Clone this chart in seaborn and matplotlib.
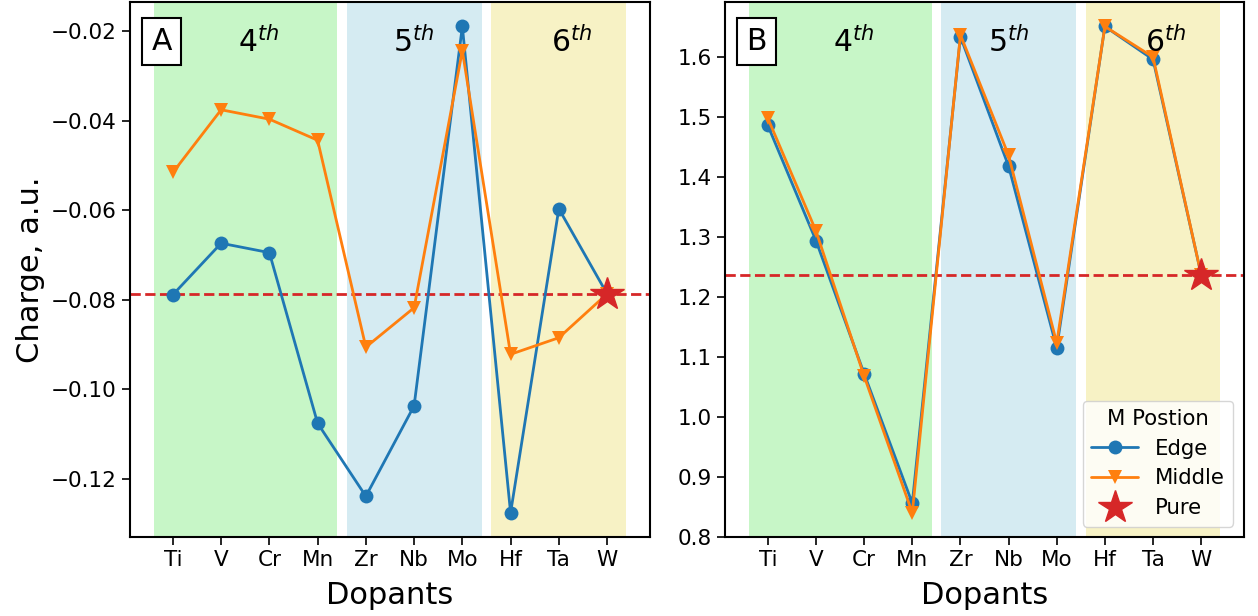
import numpy as np
import pandas as pd
import matplotlib
matplotlib.use("Agg")
import matplotlib.pyplot as plt
import matplotlib.transforms as mtransforms
import seaborn as sns

# dopants along the x axis, grouped by period
dopants = ["Ti", "V", "Cr", "Mn", "Zr", "Nb", "Mo", "Hf", "Ta", "W"]
periods = [r"$4^{th}$", r"$5^{th}$", r"$6^{th}$"]

# panel A charges (W = pure value)
pure_a = -0.0787
edge_a = [-0.0789, -0.0674, -0.0695, -0.1076, -0.1239, -0.1037, -0.0190, -0.1276, -0.0597, pure_a]
middle_a = [-0.0516, -0.0376, -0.0397, -0.0444, -0.0906, -0.0818, -0.0244, -0.0922, -0.0885, pure_a]

# panel B charges
pure_b = 1.237
edge_b = [1.486, 1.294, 1.072, 0.856, 1.634, 1.418, 1.115, 1.651, 1.596, pure_b]
middle_b = [1.498, 1.310, 1.068, 0.840, 1.637, 1.436, 1.123, 1.651, 1.600, pure_b]

sns.set_theme(style="ticks")
plt.rcParams["font.family"] = ["DejaVu Sans"]
plt.rcParams["axes.edgecolor"] = "black"
plt.rcParams["axes.labelcolor"] = "black"
plt.rcParams["text.color"] = "black"
plt.rcParams["xtick.color"] = "black"
plt.rcParams["ytick.color"] = "black"

fig = plt.figure(figsize=(12.58, 6.16), dpi=100)
ax_a = fig.add_axes([0.1033, 0.128, 0.4134, 0.8685])
ax_b = fig.add_axes([0.5763, 0.128, 0.4126, 0.8685])

span_colors = ["lightgreen", "lightblue", "khaki"]
spans = [(-0.4, 3.4), (3.6, 6.4), (6.6, 9.4)]
label_x = [1.78, 5.0, 8.27]


def draw_panel(ax, edge, middle, pure, letter):
    for (lo, hi), c in zip(spans, span_colors):
        ax.axvspan(lo, hi, color=c, alpha=0.5, lw=0, zorder=0)

    df = pd.DataFrame({
        "idx": list(range(len(dopants))) * 2,
        "charge": edge + middle,
        "pos": ["Edge"] * len(dopants) + ["Middle"] * len(dopants),
    })
    for pos, mk, col in [("Edge", "o", "tab:blue"), ("Middle", "v", "tab:orange")]:
        sub = df[df["pos"] == pos]
        sns.lineplot(data=sub, x="idx", y="charge", ax=ax, color=col, marker=mk,
                     markersize=10, markeredgecolor=col, markeredgewidth=0,
                     linewidth=2, label=pos, zorder=3)

    ax.axhline(pure, color="tab:red", linestyle="--", linewidth=2, zorder=2)
    ax.plot([len(dopants) - 1], [pure], linestyle="none", marker="*",
            markersize=25, color="tab:red", label="Pure", zorder=5)

    trans = mtransforms.blended_transform_factory(ax.transData, ax.transAxes)
    for xx, t in zip(label_x, periods):
        ax.text(xx, 0.925, t, transform=trans, ha="center", va="center", fontsize=21.5)

    ax.text(0.061, 0.927, letter, transform=ax.transAxes, ha="center", va="center",
            fontsize=21.5, bbox=dict(boxstyle="square,pad=0.3", facecolor="white",
                                     edgecolor="black", linewidth=1.5))

    ax.set_xticks(range(len(dopants)))
    ax.set_xticklabels(dopants)
    ax.tick_params(labelsize=15.5, width=1.2, length=6)
    ax.set_xlabel("Dopants", fontsize=22, labelpad=8)
    ax.set_ylabel("")
    for s in ax.spines.values():
        s.set_linewidth(1.5)


draw_panel(ax_a, edge_a, middle_a, pure_a, "A")
draw_panel(ax_b, edge_b, middle_b, pure_b, "B")

ax_a.set_ylabel("Charge, a.u.", fontsize=22)
ax_a.get_legend().remove()

handles, labels = ax_b.get_legend_handles_labels()
ax_b.legend(handles, labels, title="M Postion", loc="lower right",
            fontsize=15.3, title_fontsize=15.3, handlelength=2.2, labelspacing=0.45)

fig.savefig("out.png", dpi=100)
